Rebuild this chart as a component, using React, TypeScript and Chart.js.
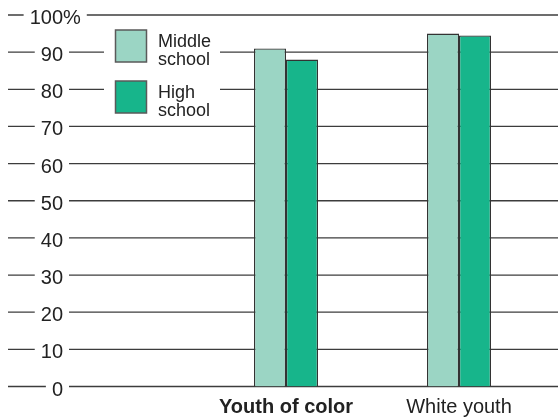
import React, { useEffect, useRef } from "react";
import { Chart, registerables } from "chart.js";

Chart.register(...registerables);

const categories = ["Youth of color", "White youth"];
const seriesNames = ["Middle\nschool", "High\nschool"];
const middleSchool = [91, 95];
const highSchool = [88, 94.5];
const yTickValues = [0, 10, 20, 30, 40, 50, 60, 70, 80, 90, 100];
const yTickLabels = ["0", "10", "20", "30", "40", "50", "60", "70", "80", "90", "100"];

const LIGHT = "#9bd5c4";
const DARK = "#17b58b";
const FONT = '"Liberation Sans", Arial, Helvetica, sans-serif';

const backdropPlugin = {
  id: "backdrop",
  beforeDatasetsDraw(chart: any) {
    const { ctx } = chart;
    const yScale = chart.scales.y;
    const W = chart.width;
    ctx.save();
    // grid lines spanning the full width
    ctx.strokeStyle = "#3c3c3c";
    ctx.lineWidth = 1.3;
    yTickValues.forEach((v) => {
      const py = yScale.getPixelForValue(v);
      ctx.beginPath();
      ctx.moveTo(8, py);
      ctx.lineTo(W, py);
      ctx.stroke();
    });
    // y tick labels with white backing
    ctx.font = "20px " + FONT;
    ctx.textBaseline = "alphabetic";
    const rightEdge = 63;
    yTickValues.forEach((v, i) => {
      const py = yScale.getPixelForValue(v);
      const num = yTickLabels[i];
      const suffix = i === yTickValues.length - 1 ? "%" : "";
      const w = ctx.measureText(num).width;
      const sw = suffix ? ctx.measureText(suffix).width : 0;
      ctx.fillStyle = "#ffffff";
      ctx.fillRect(rightEdge - w - 6, py - 4, w + sw + 12, 8);
      ctx.fillStyle = "#222222";
      ctx.textAlign = "right";
      ctx.fillText(num, rightEdge, py + 9);
      if (suffix) {
        ctx.textAlign = "left";
        ctx.fillText(suffix, rightEdge, py + 9);
      }
    });
    // legend
    ctx.fillStyle = "#ffffff";
    ctx.fillRect(104, 24, 116, 96);
    const colors = [LIGHT, DARK];
    const tops = [30, 81];
    ctx.font = "18px " + FONT;
    ctx.textAlign = "left";
    seriesNames.forEach((name, i) => {
      ctx.fillStyle = colors[i];
      ctx.fillRect(115.5, tops[i], 31, 32);
      ctx.strokeStyle = "#5a5a5a";
      ctx.lineWidth = 1.5;
      ctx.strokeRect(115.5, tops[i], 31, 32);
      ctx.fillStyle = "#222222";
      name.split("\n").forEach((line, j) => {
        ctx.fillText(line, 158, tops[i] + 16.5 + j * 18.5);
      });
    });
    ctx.restore();
  },
};

export default function App() {
  const ref = useRef<HTMLCanvasElement | null>(null);
  useEffect(() => {
    if (!ref.current) return;
    const chart = new Chart(ref.current, {
      type: "bar",
      data: {
        labels: categories,
        datasets: [
          {
            label: seriesNames[0],
            data: middleSchool,
            backgroundColor: LIGHT,
            borderColor: "#333333",
            borderWidth: 1.3,
          },
          {
            label: seriesNames[1],
            data: highSchool,
            backgroundColor: DARK,
            borderColor: "#333333",
            borderWidth: 1.3,
          },
        ],
      },
      options: {
        responsive: false,
        animation: false,
        devicePixelRatio: 1,
        layout: { padding: { left: 199.5, right: 12.5, top: 15, bottom: 0 } },
        plugins: { legend: { display: false }, tooltip: { enabled: false } },
        datasets: { bar: { categoryPercentage: 0.37, barPercentage: 1 } },
        scales: {
          y: { display: false, min: 0, max: 100 },
          x: {
            grid: { display: false, drawTicks: false },
            border: { display: false },
            afterFit: (scale: any) => {
              scale.height = 33.5;
            },
            ticks: {
              color: "#222222",
              padding: 9,
              font: (c: any) => ({
                family: FONT,
                size: 20,
                weight: c.index === 0 ? "bold" : "normal",
              }),
            },
          },
        },
      },
      plugins: [backdropPlugin],
    });
    return () => chart.destroy();
  }, []);
  return (
    <div style={{ position: "absolute", left: 0, top: 0, width: 558, height: 420, background: "#fff" }}>
      <canvas ref={ref} width={558} height={420} />
    </div>
  );
}
